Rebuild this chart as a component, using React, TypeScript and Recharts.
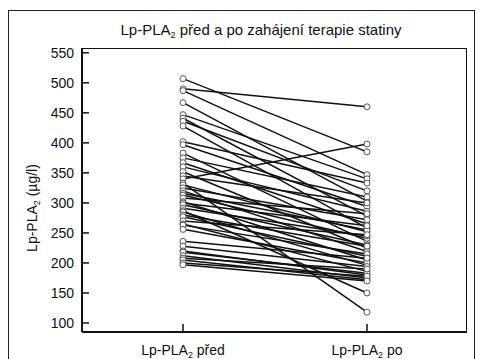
import React from "react";
import { LineChart, Line, XAxis, YAxis } from "recharts";

const categories = ["před", "po"];
const yTicks = [100, 150, 200, 250, 300, 350, 400, 450, 500, 550];
const beforeValues = [
  507, 490, 487, 467, 447, 441, 436, 428, 402, 397, 383, 375, 367, 360, 352,
  345, 340, 333, 330, 325, 320, 316, 313, 308, 302, 300, 297, 291, 287, 285,
  280, 277, 270, 265, 263, 256, 236, 228, 220, 218, 212, 208, 205, 200, 197,
];
const afterValues = [
  385, 460, 347, 303, 340, 278, 320, 258, 333, 294, 236, 310, 265, 286, 225,
  300, 398, 118, 252, 272, 219, 255, 241, 282, 205, 262, 230, 245, 150, 196,
  228, 211, 247, 186, 215, 200, 208, 194, 180, 183, 175, 190, 172, 178, 170,
];

const data = categories.map((c, i) => {
  const row: Record<string, number | string> = { x: i, cat: c };
  beforeValues.forEach((v, k) => {
    row["p" + k] = i === 0 ? v : afterValues[k];
  });
  return row;
});

const FONT = "'Liberation Sans', Arial, sans-serif";

const YTick = (props: any) => {
  const { x, y, payload } = props;
  return (
    <g>
      <line x1={x + 8} x2={x + 15} y1={y} y2={y} stroke="#111" strokeWidth={1.5} />
      <text x={x} y={y + 5} textAnchor="end" fontSize={14} fill="#111" fontFamily={FONT}>
        {payload.value}
      </text>
    </g>
  );
};

const XTick = (props: any) => {
  const { x, y, payload } = props;
  const label = categories[payload.value];
  if (label === undefined) return null;
  return (
    <g>
      <line x1={x} x2={x} y1={y - 12} y2={y - 20} stroke="#111" strokeWidth={1.5} />
      <text x={x} y={y + 11} textAnchor="middle" fontSize={14} fill="#111" fontFamily={FONT}>
        Lp-PLA
        <tspan dy={3} fontSize={9}>2</tspan>
        <tspan dy={-3}>{" " + label}</tspan>
      </text>
    </g>
  );
};

export default function App() {
  return (
    <div style={{ position: "absolute", left: 0, top: 0, width: 483, height: 359, overflow: "hidden" }}>
      <div style={{ position: "absolute", left: 0, top: 0 }}>
        <LineChart
          width={483}
          height={359}
          data={data}
          margin={{ top: 48, right: 17, bottom: 7, left: 22 }}
        >
          <XAxis
            dataKey="x"
            type="number"
            domain={[-0.549, 1.538]}
            ticks={[0, 1]}
            allowDataOverflow
            height={20}
            tickLine={false}
            tickSize={0}
            tickMargin={12}
            axisLine={{ stroke: "#111", strokeWidth: 2 }}
            tick={<XTick />}
            interval={0}
          />
          <YAxis
            type="number"
            domain={[85, 558]}
            ticks={yTicks}
            allowDataOverflow
            width={60}
            tickLine={false}
            tickSize={0}
            tickMargin={8}
            axisLine={{ stroke: "#111", strokeWidth: 2 }}
            tick={<YTick />}
            interval={0}
          />
          {beforeValues.map((_, k) => (
            <Line
              key={k}
              dataKey={"p" + k}
              stroke="#111"
              strokeWidth={1.5}
              dot={{ r: 3, stroke: "#555", strokeWidth: 1, fill: "#fff" }}
              isAnimationActive={false}
            />
          ))}
        </LineChart>
      </div>
      <div
        style={{
          position: "absolute",
          left: 8,
          top: 10,
          width: 467,
          height: 360,
          border: "1px solid #222",
          boxSizing: "border-box",
          pointerEvents: "none",
        }}
      />
      <div
        style={{
          position: "absolute",
          left: 82,
          top: 48,
          width: 385,
          height: 285,
          borderTop: "1.5px solid #111",
          borderRight: "1.5px solid #111",
          boxSizing: "border-box",
          pointerEvents: "none",
        }}
      />
      <svg
        width={483}
        height={359}
        style={{ position: "absolute", left: 0, top: 0, pointerEvents: "none" }}
      >
        <text x={261} y={35} textAnchor="middle" fontSize={15} fill="#111" fontFamily={FONT}>
          Lp-PLA
          <tspan dy={3} fontSize={9}>2</tspan>
          <tspan dy={-3}> před a po zahájení terapie statiny</tspan>
        </text>
        <text
          x={37}
          y={208}
          textAnchor="middle"
          fontSize={14}
          fill="#111"
          fontFamily={FONT}
          transform="rotate(-90, 37, 208)"
        >
          Lp-PLA
          <tspan dy={3} fontSize={9}>2</tspan>
          <tspan dy={-3}> (µg/l)</tspan>
        </text>
      </svg>
    </div>
  );
}
